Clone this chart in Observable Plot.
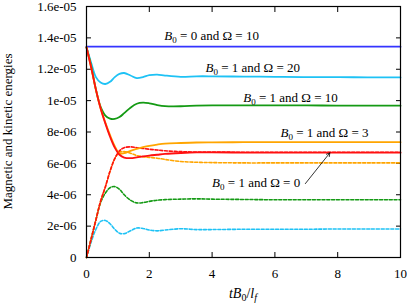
<!DOCTYPE html>
<html><head><meta charset="utf-8">
<script src="https://cdn.jsdelivr.net/npm/d3@7"></script>
<script src="https://cdn.jsdelivr.net/npm/@observablehq/plot@0.6"></script>
<style>
body{margin:0;background:#fff}
svg, svg text{font-family:"Liberation Serif","DejaVu Serif","Noto Serif",Tinos,serif !important}
</style>
</head><body><div id="chart"></div>
<script>
// time axis t B0 / l_f
const t = [0, 0.15, 0.3, 0.45, 0.6, 0.75, 0.9, 1.05, 1.2, 1.4, 1.6, 1.8, 2.0, 2.25, 2.5, 3, 3.5, 4, 5, 6, 7, 8, 9, 10];
// energies in units of 1e-6
const magB0O10  = [13.44,13.44,13.44,13.44,13.44,13.44,13.44,13.44,13.44,13.44,13.44,13.44,13.44,13.44,13.44,13.44,13.44,13.44,13.44,13.44,13.44,13.44,13.44,13.44];
const magB1O20  = [13.4,12.4,11.5,11.15,11.06,11.2,11.5,11.7,11.76,11.6,11.44,11.5,11.62,11.66,11.6,11.52,11.55,11.55,11.53,11.52,11.5,11.5,11.48,11.48];
const kinB1O20  = [0,1.0,1.8,2.3,2.36,2.15,1.8,1.55,1.52,1.7,1.88,1.85,1.75,1.7,1.75,1.83,1.78,1.78,1.8,1.8,1.8,1.82,1.82,1.82];
const magB1O10  = [13.4,12.2,10.7,9.6,9.05,8.85,8.83,8.95,9.2,9.55,9.8,9.87,9.83,9.72,9.65,9.64,9.68,9.7,9.7,9.7,9.7,9.68,9.68,9.68];
const kinB1O10  = [0,1.2,2.4,3.5,4.1,4.45,4.52,4.35,4.0,3.65,3.48,3.5,3.58,3.65,3.69,3.72,3.74,3.72,3.7,3.68,3.68,3.68,3.68,3.68];
const magB1O3   = [13.4,12.1,10.7,9.5,8.6,7.8,7.1,6.62,6.65,6.8,6.92,7.03,7.12,7.2,7.26,7.3,7.33,7.34,7.35,7.35,7.35,7.35,7.35,7.35];
const kinB1O3   = [0,1.2,2.4,3.6,4.5,5.5,6.3,6.7,6.75,6.65,6.5,6.42,6.38,6.33,6.25,6.12,6.07,6.05,6.03,6.03,6.03,6.03,6.03,6.03];
const magB1O0   = [13.4,12.1,10.7,9.5,8.55,7.7,7.0,6.55,6.37,6.33,6.38,6.45,6.5,6.55,6.6,6.66,6.7,6.7,6.69,6.68,6.68,6.68,6.68,6.68];
const kinB1O0   = [0,1.2,2.4,3.6,4.5,5.5,6.3,6.8,7.0,7.05,7.0,6.95,6.9,6.85,6.8,6.75,6.72,6.72,6.71,6.71,6.71,6.71,6.71,6.71];

const yTicks = [0, 2, 4, 6, 8, 10, 12, 14, 16];
const yTickLabels = ["0","2e-06","4e-06","6e-06","8e-06","1e-05","1.2e-05","1.4e-05","1.6e-05"];
const xTicks = [0, 2, 4, 6, 8, 10];

// annotations
const labelB = ["0","1","1","1","1"];
const labelOmega = ["10","20","10","3","0"];
const labelT = [2.48, 3.79, 4.99, 6.18, 4.0];
const labelV = [14.14, 12.1, 10.19, 7.96, 4.75];
const arrowFrom = [6.97, 4.71];
const arrowTo = [7.75, 6.67];

const FONT = '"Liberation Serif", "DejaVu Serif", "Noto Serif", Tinos, serif';

const series = [
  {key:"mB0O10", dashed:false, color:"#3434ff", values:magB0O10},
  {key:"mB1O20", dashed:false, color:"#1ec2f5", values:magB1O20},
  {key:"kB1O20", dashed:true,  color:"#1ec2f5", values:kinB1O20},
  {key:"mB1O10", dashed:false, color:"#149a14", values:magB1O10},
  {key:"kB1O10", dashed:true,  color:"#149a14", values:kinB1O10},
  {key:"mB1O3",  dashed:false, color:"#ffa500", values:magB1O3},
  {key:"kB1O3",  dashed:true,  color:"#ffa500", values:kinB1O3},
  {key:"mB1O0",  dashed:false, color:"#ff1010", values:magB1O0},
  {key:"kB1O0",  dashed:true,  color:"#ff1010", values:kinB1O0}
];
const rows = series.flatMap(s => t.map((x, i) => ({t: x, v: s.values[i], key: s.key, dashed: s.dashed, color: s.color})));
const labels = labelB.map((b, i) => ({t: labelT[i], v: labelV[i], text: `B₀ = ${b} and Ω = ${labelOmega[i]}`}));

const plot = Plot.plot({
  width: 407, height: 305,
  marginLeft: 86, marginRight: 7, marginTop: 6, marginBottom: 48,
  x: {domain: [0, 10]},
  y: {domain: [0, 16]},
  color: {type: "identity"},
  style: {fontFamily: FONT, fontSize: "13px", background: "white"},
  marks: [
    Plot.axisY(yTicks, {anchor: "left", tickSize: -5, tickPadding: 15, fontSize: 13, label: null,
      tickFormat: d => yTickLabels[yTicks.indexOf(d)]}),
    Plot.axisY(yTicks, {anchor: "right", tickSize: -5, label: null, tickFormat: () => ""}),
    Plot.axisX(xTicks, {anchor: "bottom", tickSize: -5, tickPadding: 16, fontSize: 13, label: null}),
    Plot.axisX(xTicks, {anchor: "top", tickSize: -5, label: null, tickFormat: () => ""}),
    Plot.line(rows.filter(d => d.dashed), {x: "t", y: "v", z: "key", stroke: "color", strokeWidth: 1.6, strokeDasharray: "3,1.8", curve: "catmull-rom"}),
    Plot.line(rows.filter(d => !d.dashed), {x: "t", y: "v", z: "key", stroke: "color", strokeWidth: 1.8, curve: "catmull-rom"}),
    Plot.text(labels, {x: "t", y: "v", text: "text", textAnchor: "start", fontSize: 13, fill: "black"}),
    Plot.arrow([{x1: arrowFrom[0], y1: arrowFrom[1], x2: arrowTo[0], y2: arrowTo[1]}],
      {x1: "x1", y1: "y1", x2: "x2", y2: "y2", stroke: "black", strokeWidth: 0.8, headLength: 7}),
    Plot.frame({stroke: "black", strokeWidth: 1.2})
  ]
});

const svg = d3.select(plot);
svg.style("font-family", FONT);
// rich text for B₀ labels
svg.selectAll("text").each(function() {
  const el = d3.select(this);
  el.attr("font-family", FONT);
  const s = el.text();
  if (s.startsWith("B₀")) {
    const rest = s.slice(2);
    el.text("");
    el.append("tspan").attr("font-style", "italic").text("B");
    el.append("tspan").attr("font-size", 9).attr("dy", 3).text("0");
    el.append("tspan").attr("dy", -3).text(rest);
  }
});
// axis titles
svg.append("text")
  .attr("transform", "translate(12,131.5) rotate(-90)")
  .attr("text-anchor", "middle").attr("font-size", 13).attr("fill", "black").attr("font-family", FONT)
  .text("Magnetic and kinetic energies");
const xl = svg.append("text")
  .attr("x", 243).attr("y", 298).attr("text-anchor", "middle").attr("font-size", 14).attr("fill", "black").attr("font-family", FONT);
xl.append("tspan").attr("font-style", "italic").text("tB");
xl.append("tspan").attr("font-size", 10).attr("dy", 3).text("0");
xl.append("tspan").attr("dy", -3).text("/");
xl.append("tspan").attr("font-style", "italic").text("l");
xl.append("tspan").attr("font-style", "italic").attr("font-size", 10).attr("dy", 3).text("f");

document.getElementById("chart").appendChild(plot);
</script>
</body></html>
